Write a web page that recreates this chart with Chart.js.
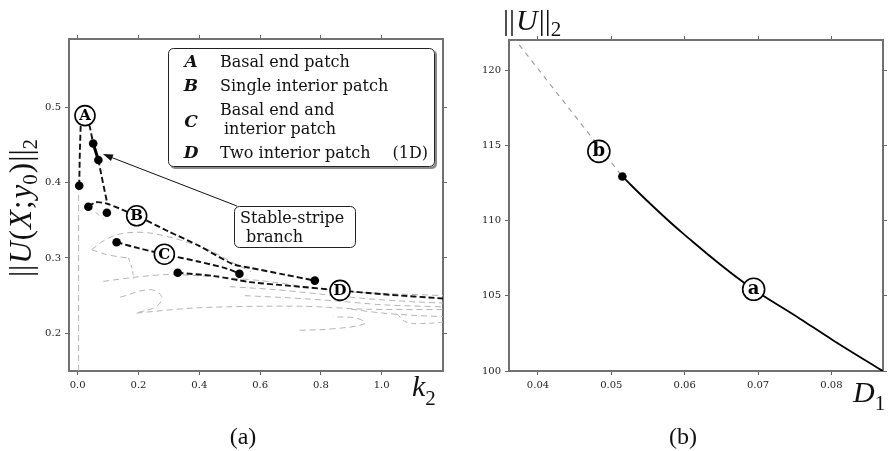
<!DOCTYPE html>
<html>
<head>
<meta charset="utf-8">
<script src="https://cdn.jsdelivr.net/npm/chart.js@4.4.1/dist/chart.umd.min.js"></script>
<style>
  html, body { margin: 0; padding: 0; background: #fff; }
  #wrap { position: relative; width: 893px; height: 451px; overflow: hidden; background: #fff; }
  canvas { position: absolute; top: 0; }
  #panelA { left: 0; }
  #panelB { left: 450px; }
</style>
</head>
<body>
<div id="wrap">
  <canvas id="panelA" width="450" height="451" style="width:450px;height:451px"></canvas>
  <canvas id="panelB" width="443" height="451" style="width:443px;height:451px"></canvas>
</div>
<script>
// ---------- panel (a): solution norm against k2 ----------
const k2Ticks = [0.0, 0.2, 0.4, 0.6, 0.8, 1.0];
const normTicks = [0.2, 0.3, 0.4, 0.5];

// solution branches (k2, ||U||2)
const branchA = [[0.005,0.396],[0.007,0.44],[0.010,0.478],[0.024,0.489],[0.040,0.474],[0.051,0.452],[0.068,0.430],[0.083,0.400],[0.097,0.373]];
const stableStripe = [[0.051,0.452],[0.068,0.430]];
const branchB = [[0.035,0.368],[0.06,0.374],[0.097,0.372],[0.194,0.356],[0.30,0.335],[0.40,0.316],[0.51,0.292],[0.567,0.287],[0.68,0.278],[0.78,0.270]];
const branchC = [[0.128,0.321],[0.2,0.313],[0.285,0.305],[0.40,0.295],[0.49,0.286],[0.532,0.279]];
const branchD = [[0.329,0.2805],[0.45,0.276],[0.567,0.268],[0.70,0.263],[0.863,0.257],[1.0,0.252],[1.21,0.246]];
const foldPoints = [[0.005,0.396],[0.051,0.452],[0.068,0.430],[0.035,0.368],[0.096,0.360],[0.128,0.321],[0.329,0.2805],[0.532,0.279],[0.78,0.270]];
const branchMarks = [[0.024,0.489,'A'],[0.194,0.356,'B'],[0.285,0.305,'C'],[0.863,0.257,'D']];

// unstable (2D) branches
const grayStem  = [[0.003,0.15],[0.003,0.39]];
const grayArc   = [[0.046,0.311],[0.09,0.324],[0.14,0.332],[0.216,0.334],[0.29,0.329],[0.36,0.321],[0.44,0.309],[0.51,0.294],[0.57,0.282]];
const grayInner = [[0.046,0.311],[0.09,0.305],[0.13,0.302],[0.167,0.300]];
const grayFold  = [[0.167,0.300],[0.178,0.287],[0.185,0.272]];
const graySpur  = [[0.035,0.368],[0.06,0.360],[0.085,0.352]];
const grayMid   = [[0.084,0.269],[0.2,0.275],[0.3,0.278],[0.45,0.275],[0.6,0.270],[0.75,0.262],[0.9,0.255],[1.21,0.250]];
const grayLoop  = [[0.14,0.248],[0.238,0.258],[0.276,0.249],[0.26,0.236],[0.194,0.227]];
const grayLow   = [[0.194,0.227],[0.4,0.234],[0.73,0.236],[0.95,0.232],[1.21,0.2315]];
const grayCurl  = [[0.73,0.204],[0.84,0.206],[0.945,0.213],[0.918,0.220],[0.84,0.222]];
const grayFanA  = [[0.5,0.262],[0.65,0.258],[0.8,0.252],[0.95,0.246],[1.1,0.242],[1.21,0.240]];
const grayFanB  = [[0.55,0.25],[0.7,0.247],[0.85,0.243],[1.0,0.238],[1.21,0.235]];
const grayFanC  = [[0.9,0.232],[1.0,0.227],[1.1,0.224],[1.21,0.222]];
const grayHook  = [[1.05,0.226],[1.08,0.215],[1.13,0.213],[1.21,0.215]];

// ---------- panel (b): solution norm against D1 ----------
const d1Ticks = [0.04, 0.05, 0.06, 0.07, 0.08];
const bigNormTicks = [100, 105, 110, 115, 120];
const d1Unstable = [[0.0366,122.2],[0.0515,112.93]];
const d1Stable = [[0.0515,112.93],[0.0548,111.35],[0.0598,109.13],[0.068,105.9],[0.0757,103.48],[0.0802,102.05],[0.0870,100.0]];
const d1Fold = [[0.0515,112.93]];
const d1Marks = [[0.0483,114.6,'b'],[0.0694,105.43,'a']];

const SERIF = "'Liberation Serif', 'DejaVu Serif', serif";
const DV = "'DejaVu Serif', serif";

const xy = a => a.map(p => ({ x: p[0], y: p[1] }));

function axis(pos, min, max, ticks, fmt, size, showLabels) {
  const vertical = pos === 'left' || pos === 'right';
  return {
    type: 'linear', position: pos, min, max, bounds: 'data',
    afterBuildTicks: s => { s.ticks = ticks.map(v => ({ value: v })); },
    afterFit: s => {
      if (vertical) s.width = size; else s.height = size;
      s.paddingLeft = s.paddingRight = s.paddingTop = s.paddingBottom = 0;
    },
    ticks: {
      display: showLabels, callback: v => fmt(v), padding: 4, color: '#222',
      font: { family: DV, size: 10 }, maxRotation: 0, autoSkip: false
    },
    grid: { drawOnChartArea: false, drawTicks: true, tickLength: 4, color: '#666', lineWidth: 1 },
    border: { display: true, color: '#717171', width: 2 }
  };
}

function curve(points, color, width, dash, order, tension) {
  return {
    data: xy(points), showLine: true, borderColor: color, borderWidth: width,
    borderDash: dash, pointRadius: 0, tension: tension || 0, order, fill: false
  };
}

function dots(points, r, order) {
  return {
    data: xy(points), showLine: false, pointRadius: r, pointBackgroundColor: '#000',
    pointBorderColor: '#000', pointBorderWidth: 0, order
  };
}

function marks(list, r, order) {
  return {
    data: list.map(m => ({ x: m[0], y: m[1] })), letters: list.map(m => m[2]),
    showLine: false, pointRadius: r, pointBackgroundColor: '#fff',
    pointBorderColor: '#000', pointBorderWidth: 1.6, order
  };
}

function roundRect(ctx, x, y, w, h, r) {
  ctx.beginPath();
  ctx.moveTo(x + r, y);
  ctx.arcTo(x + w, y, x + w, y + h, r);
  ctx.arcTo(x + w, y + h, x, y + h, r);
  ctx.arcTo(x, y + h, x, y, r);
  ctx.arcTo(x, y, x + w, y, r);
  ctx.closePath();
}

// draws a row of differently styled pieces; align 'center' or 'left'
function rich(ctx, segs, x, y, align) {
  let w = 0;
  segs.forEach(s => { ctx.font = s.f; s.w = ctx.measureText(s.t).width; w += s.w + (s.gap || 0); });
  let cx = align === 'center' ? x - w / 2 : x;
  ctx.textAlign = 'left';
  ctx.textBaseline = 'alphabetic';
  segs.forEach(s => { ctx.font = s.f; ctx.fillText(s.t, cx, y + (s.dy || 0)); cx += s.w + (s.gap || 0); });
}

const markLetters = {
  id: 'markLetters',
  afterDatasetsDraw(chart, args, opts) {
    const ctx = chart.ctx;
    chart.data.datasets.forEach((ds, i) => {
      if (!ds.letters) return;
      const meta = chart.getDatasetMeta(i);
      ctx.save();
      ctx.fillStyle = '#000';
      ctx.font = opts.font;
      ctx.textAlign = 'center';
      ctx.textBaseline = 'middle';
      meta.data.forEach((pt, j) => ctx.fillText(ds.letters[j], pt.x, pt.y + (opts.dy || 0)));
      ctx.restore();
    });
  }
};

const basePlugins = { legend: { display: false }, tooltip: { enabled: false } };

// ---------- panel (a) ----------
const panelAText = {
  id: 'panelAText',
  afterDraw(chart) {
    const ctx = chart.ctx;
    ctx.save();
    ctx.fillStyle = '#000';

    // legend box with drop shadow
    ctx.fillStyle = '#8a8a8a';
    roundRect(ctx, 170, 50, 267, 119, 5); ctx.fill();
    ctx.fillStyle = '#fff';
    roundRect(ctx, 168, 48, 267, 119, 5); ctx.fill();
    ctx.strokeStyle = '#222'; ctx.lineWidth = 1;
    roundRect(ctx, 168.5, 48.5, 266, 118, 5); ctx.stroke();

    ctx.fillStyle = '#111';
    ctx.textAlign = 'center'; ctx.textBaseline = 'alphabetic';
    ctx.font = "bold italic 17px " + DV;
    ctx.fillText('A', 191, 67);
    ctx.fillText('B', 191, 91);
    ctx.fillText('C', 191, 127);
    ctx.fillText('D', 191, 158);
    ctx.textAlign = 'left';
    ctx.font = "16px " + DV;
    ctx.fillText('Basal end patch', 220, 67);
    ctx.fillText('Single interior patch', 220, 91);
    ctx.fillText('Basal end and', 220, 115);
    ctx.fillText('interior patch', 224, 134);
    ctx.fillText('Two interior patch', 220, 158);
    ctx.textAlign = 'right';
    ctx.fillText('(1D)', 428, 158);

    // callout for the stable stripe branch
    const sx = chart.scales.x, sy = chart.scales.y;
    const tipX = sx.getPixelForValue(0.083), tipY = sy.getPixelForValue(0.438);
    const fromX = 237, fromY = 206;
    ctx.strokeStyle = '#111'; ctx.lineWidth = 1;
    ctx.beginPath(); ctx.moveTo(fromX, fromY); ctx.lineTo(tipX + 6, tipY + 2.4); ctx.stroke();
    const ang = Math.atan2(tipY - fromY, tipX - fromX);
    ctx.fillStyle = '#111';
    ctx.beginPath();
    ctx.moveTo(tipX, tipY);
    ctx.lineTo(tipX - 10 * Math.cos(ang) + 3.5 * Math.sin(ang), tipY - 10 * Math.sin(ang) - 3.5 * Math.cos(ang));
    ctx.lineTo(tipX - 10 * Math.cos(ang) - 3.5 * Math.sin(ang), tipY - 10 * Math.sin(ang) + 3.5 * Math.cos(ang));
    ctx.closePath(); ctx.fill();

    ctx.fillStyle = '#fff';
    roundRect(ctx, 234.5, 206.5, 121, 41, 5); ctx.fill();
    ctx.strokeStyle = '#222';
    roundRect(ctx, 234.5, 206.5, 121, 41, 5); ctx.stroke();
    ctx.fillStyle = '#111';
    ctx.textAlign = 'left'; ctx.font = "16px " + DV;
    ctx.fillText('Stable-stripe', 240, 223);
    ctx.fillText('branch', 246, 242);

    // axis titles
    ctx.fillStyle = '#111';
    ctx.save();
    ctx.translate(31, 208);
    ctx.rotate(-Math.PI / 2);
    const up = "31px " + SERIF, it = "italic 31px " + SERIF, sub = "21px " + SERIF;
    rich(ctx, [
      { t: '||', f: up, gap: 1 }, { t: 'U', f: it, gap: 1 }, { t: '(', f: up, gap: 1 },
      { t: 'X', f: it, gap: 1 }, { t: ';', f: up, gap: 2 }, { t: 'y', f: it },
      { t: '0', f: sub, dy: 6, gap: 1 }, { t: ')', f: up, gap: 1 }, { t: '||', f: up },
      { t: '2', f: sub, dy: 6 }
    ], 0, 0, 'center');
    ctx.restore();

    rich(ctx, [{ t: 'k', f: "italic 30px " + SERIF, gap: 0 }, { t: '2', f: "21px " + SERIF, dy: 9 }], 412, 396, 'left');
    ctx.textAlign = 'center';
    ctx.font = "24px " + SERIF;
    ctx.fillText('(a)', 243, 444);
    ctx.restore();
  }
};

new Chart(document.getElementById('panelA'), {
  type: 'scatter',
  data: {
    datasets: [
      curve(grayStem, '#b4b4b4', 1, [6, 4], 9),
      curve(grayArc, '#b4b4b4', 1, [6, 4], 9, 0.35),
      curve(grayInner, '#b4b4b4', 1, [6, 4], 9, 0.3),
      curve(grayFold, '#b4b4b4', 1, [4, 3], 9, 0.3),
      curve(graySpur, '#b4b4b4', 1, [5, 4], 9, 0.3),
      curve(grayMid, '#b4b4b4', 1, [6, 4], 9, 0.3),
      curve(grayLoop, '#b4b4b4', 1, [6, 4], 9, 0.4),
      curve(grayLow, '#b4b4b4', 1, [6, 4], 9, 0.3),
      curve(grayCurl, '#b4b4b4', 1, [6, 4], 9, 0.4),
      curve(grayFanA, '#b4b4b4', 1, [6, 4], 9, 0.3),
      curve(grayFanB, '#b4b4b4', 1, [6, 4], 9, 0.3),
      curve(grayFanC, '#b4b4b4', 1, [6, 4], 9, 0.3),
      curve(grayHook, '#b4b4b4', 1, [5, 4], 9, 0.4),
      curve(branchA, '#111', 1.9, [6, 3], 5, 0),
      curve(branchB, '#111', 1.9, [6, 3], 5, 0.25),
      curve(branchC, '#111', 1.9, [6, 3], 5, 0.25),
      curve(branchD, '#111', 1.9, [6, 3], 5, 0.25),
      curve(stableStripe, '#000', 3, [], 4, 0),
      dots(foldPoints, 4.3, 3),
      marks(branchMarks, 10, 1)
    ]
  },
  options: {
    responsive: false, animation: false, devicePixelRatio: 1,
    layout: { padding: 0, autoPadding: false },
    plugins: Object.assign({}, basePlugins, { markLetters: { font: "bold 15px " + DV, dy: 0.5 } }),
    scales: {
      x: axis('bottom', -0.0286, 1.2016, k2Ticks, v => v.toFixed(1), 80, true),
      x2: axis('top', -0.0286, 1.2016, k2Ticks, v => '', 39, false),
      y: axis('left', 0.15, 0.5907, normTicks, v => v.toFixed(1), 69, true),
      y2: axis('right', 0.15, 0.5907, normTicks, v => '', 7, false)
    }
  },
  plugins: [markLetters, panelAText]
});

// ---------- panel (b) ----------
const panelBText = {
  id: 'panelBText',
  afterDraw(chart) {
    const ctx = chart.ctx;
    ctx.save();
    ctx.fillStyle = '#111';
    const up = "30px " + SERIF, it = "italic 30px " + SERIF, sub = "21px " + SERIF;
    rich(ctx, [{ t: '||', f: up, gap: 1 }, { t: 'U', f: it, gap: 1 }, { t: '||', f: up }, { t: '2', f: sub, dy: 6 }], 53, 30, 'left');
    rich(ctx, [{ t: 'D', f: it }, { t: '1', f: sub, dy: 8 }], 403, 402, 'left');
    ctx.textAlign = 'center';
    ctx.textBaseline = 'alphabetic';
    ctx.font = "24px " + SERIF;
    ctx.fillText('(b)', 233, 444);
    ctx.restore();
  }
};

new Chart(document.getElementById('panelB'), {
  type: 'scatter',
  data: {
    datasets: [
      curve(d1Unstable, '#9a9a9a', 1.1, [5, 5], 9, 0),
      curve(d1Stable, '#000', 1.8, [], 5, 0.4),
      dots(d1Fold, 4.3, 3),
      marks(d1Marks, 11, 1)
    ]
  },
  options: {
    responsive: false, animation: false, devicePixelRatio: 1,
    layout: { padding: 0, autoPadding: false },
    plugins: Object.assign({}, basePlugins, { markLetters: { font: "bold 18px " + DV, dy: 0 } }),
    scales: {
      x: axis('bottom', 0.03605, 0.08703, d1Ticks, v => v.toFixed(2), 80, true),
      x2: axis('top', 0.03605, 0.08703, d1Ticks, v => '', 40, false),
      y: axis('left', 100, 122, bigNormTicks, v => String(v), 59, true),
      y2: axis('right', 100, 122, bigNormTicks, v => '', 10, false)
    }
  },
  plugins: [markLetters, panelBText]
});
</script>
</body>
</html>
